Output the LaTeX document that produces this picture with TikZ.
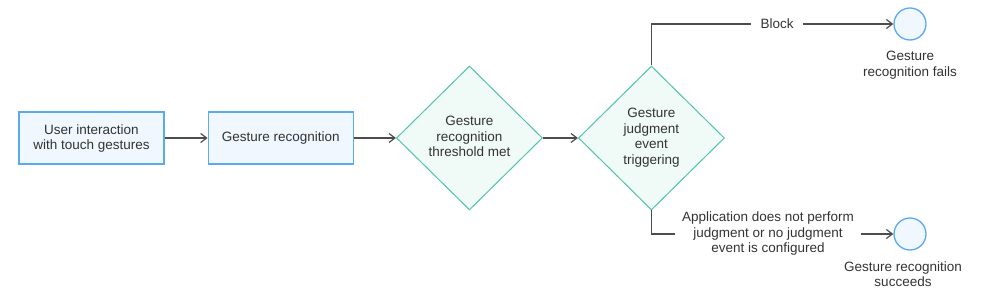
\documentclass[tikz,border=0pt]{standalone}
\usepackage{fontspec}
\setmainfont{Liberation Sans}
\usetikzlibrary{shapes.geometric, arrows.meta, positioning}
\definecolor{boxfill}{RGB}{240, 247, 254}
\definecolor{boxborder}{RGB}{90, 170, 240}
\definecolor{decfill}{RGB}{240, 250, 246}
\definecolor{decborder}{RGB}{80, 195, 170}
\definecolor{linegray}{RGB}{77, 77, 77}
\definecolor{textgray}{RGB}{51, 51, 51}

\begin{document}
\begin{tikzpicture}[
  x=1pt, y=-1pt,
  every node/.style={font=\fontsize{13.5}{15.5}\selectfont, text=textgray, align=center},
  box/.style={rectangle, draw=boxborder, fill=boxfill, line width=1.3pt, minimum width=145pt, minimum height=52pt, inner sep=0pt, text depth=2pt},
  decision/.style={diamond, aspect=1, draw=decborder, fill=decfill, line width=1pt, minimum width=146pt, minimum height=144pt, inner sep=0pt, text depth=3pt},
  endpoint/.style={circle, draw=boxborder, fill=boxfill, line width=1.3pt, minimum size=32pt, inner sep=0pt},
  arrow/.style={-{Straight Barb[length=6pt, width=9pt]}, line width=1.2pt, color=linegray},
  branch/.style={line width=1.2pt, color=linegray},
]
  \useasboundingbox (0,0) rectangle (987,296);

  \node[box] (touch) at (91.5,138) {User interaction\\with touch gestures};
  \node[box, right=43pt of touch] (recog) {Gesture recognition};
  \node[decision, right=42pt of recog] (threshold) {Gesture\\recognition\\threshold met};
  \node[decision, right=35pt of threshold] (judge) {Gesture\\judgment\\event\\triggering};

  \draw[arrow] (touch) -- (recog);
  \draw[arrow] (recog) -- (threshold);
  \draw[arrow] (threshold) -- (judge);

  % blocked branch
  \node[inner xsep=9pt] (block) at (777,24) {Block};
  \node[endpoint] (fail) at (910,24) {};
  \node[below=7pt of fail] (failtext) {Gesture\\recognition fails};
  \draw[branch] (judge.north) |- (block);
  \draw[arrow] (block) -- (fail);

  % no judgment branch
  \node[inner xsep=7pt] (nojudge) at (768,234) {Application does not perform\\judgment or no judgment\\event is configured};
  \node[endpoint] (success) at (910,234) {};
  \node (successtext) at (903,274) {Gesture recognition\\succeeds};
  \draw[branch] (judge.south) |- (nojudge);
  \draw[arrow] (nojudge) -- (success);
\end{tikzpicture}
\end{document}
